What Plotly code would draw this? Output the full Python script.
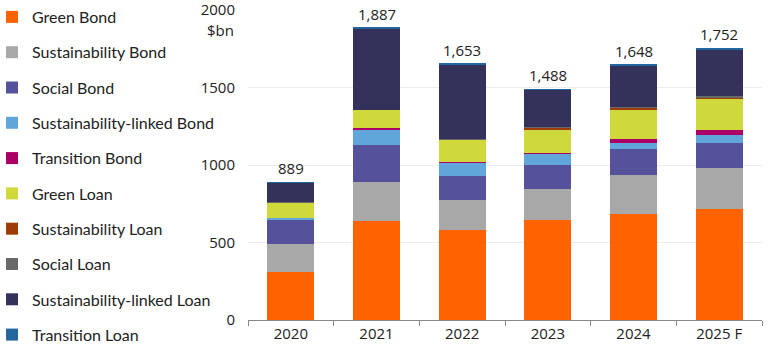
import plotly.graph_objects as go

categories = ["2020", "2021", "2022", "2023", "2024", "2025 F"]
totals = [889, 1887, 1653, 1488, 1648, 1752]
total_labels = ["889", "1,887", "1,653", "1,488", "1,648", "1,752"]

green_bond = [312, 641, 583, 647, 686, 716]
sustainability_bond = [178, 249, 191, 198, 249, 265]
social_bond = [157, 239, 155, 155, 168, 161]
sustainability_linked_bond = [13, 103, 90, 71, 39, 52]
transition_bond = [1, 7, 2, 6, 26, 32]
green_loan = [96, 116, 142, 155, 187, 200]
sustainability_loan = [2, 2, 3, 10, 14, 11]
social_loan = [1, 1, 2, 3, 4, 6]
sustainability_linked_loan = [124, 525, 482, 239, 271, 304]
transition_loan = [5, 4, 3, 4, 4, 5]

series = [
    ("Green Bond", green_bond, "#FF6200"),
    ("Sustainability Bond", sustainability_bond, "#A8A8A8"),
    ("Social Bond", social_bond, "#55519B"),
    ("Sustainability-linked Bond", sustainability_linked_bond, "#60A6DA"),
    ("Transition Bond", transition_bond, "#AB0066"),
    ("Green Loan", green_loan, "#D0D93C"),
    ("Sustainability Loan", sustainability_loan, "#9E3C08"),
    ("Social Loan", social_loan, "#696969"),
    ("Sustainability-linked Loan", sustainability_linked_loan, "#34315A"),
    ("Transition Loan", transition_loan, "#24679E"),
]

fig = go.Figure()
for i, (name, vals, color) in enumerate(series):
    fig.add_trace(go.Bar(
        x=categories, y=vals, name=name, legendgroup=f"g{i}",
        marker=dict(color=color, line=dict(width=0)),
        hoverinfo="x+y+name",
    ))

for idx, (t, lab) in enumerate(zip(totals, total_labels)):
    fig.add_annotation(x=idx, y=t, text=lab, showarrow=False, yanchor="bottom",
                       yshift=2, font=dict(family="Open Sans", size=15, color="#222"))

fig.add_annotation(xref="paper", yref="y", x=0, y=2000, text="$bn", showarrow=False,
                   xanchor="right", yanchor="top", xshift=-12, yshift=-8,
                   font=dict(family="Open Sans", size=15, color="#222"))

fig.update_layout(
    width=773, height=355,
    margin=dict(l=248, r=11, t=10, b=35, autoexpand=False),
    barmode="stack", bargap=0.45,
    plot_bgcolor="white", paper_bgcolor="white",
    font=dict(family="Open Sans", size=15, color="#222"),
    legend=dict(xref="paper", yref="paper", x=-0.498, y=1.0323, xanchor="left", yanchor="top",
                traceorder="grouped", tracegroupgap=11.5, maxheight=500,
                bgcolor="rgba(0,0,0,0)",
                font=dict(family="Lato", size=16, color="#222")),
    xaxis=dict(type="category", range=[-0.5, 5.5], showline=True, linecolor="#888", linewidth=1,
               ticks="outside", tickson="boundaries", ticklen=5, tickcolor="#888", showgrid=False),
    yaxis=dict(range=[0, 2000], tickvals=[0, 500, 1000, 1500, 2000], showgrid=True,
               gridcolor="#ececec", zeroline=False, ticklabelstandoff=12,
               ticklabeloverflow="allow"),
)

fig.write_html("out.html", config={"displayModeBar": False},
               post_script="document.body.style.margin='0px';")
